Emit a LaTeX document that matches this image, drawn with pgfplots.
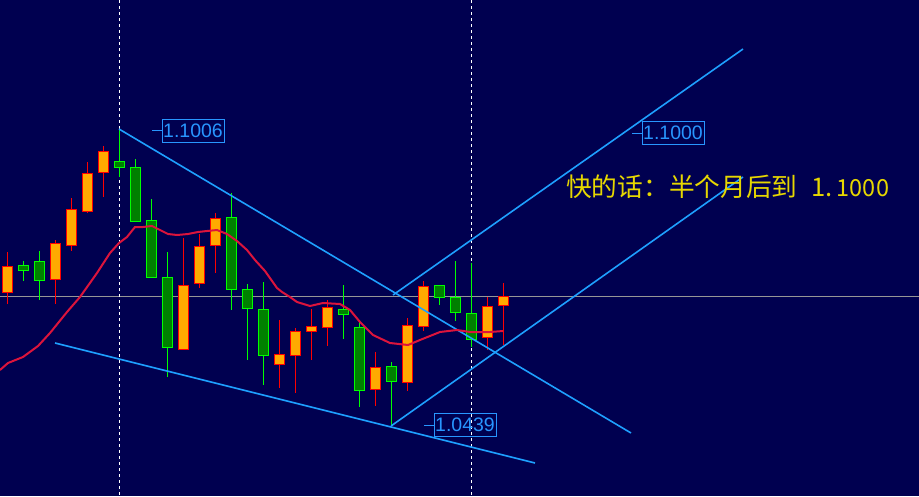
\documentclass[border=0pt]{standalone}
\usepackage{pgfplots}
\pgfplotsset{compat=1.18}
\usepackage{fontspec}
\setmainfont{Liberation Sans}
\newfontfamily\cjk{Noto Sans CJK SC}

\definecolor{bg}{RGB}{0,0,80}
\definecolor{trend}{RGB}{30,160,255}
\definecolor{lbl}{RGB}{40,150,255}
\definecolor{upf}{RGB}{255,170,0}
\definecolor{upb}{RGB}{255,0,0}
\definecolor{dnf}{RGB}{0,128,0}
\definecolor{dnb}{RGB}{0,255,0}
\definecolor{ma}{RGB}{220,20,60}
\definecolor{txt}{RGB}{230,215,0}
\definecolor{hline}{RGB}{150,150,150}

% candle: x, body top, body bottom, high, low, wick/border colour, fill colour
% (y is measured downwards, chart pixels)
\newcommand{\candle}[7]{%
  \pgfmathsetmacro\xl{#1-5}\pgfmathsetmacro\xr{#1+5}%
  \edef\next{%
    \noexpand\addplot[draw=#6, line width=1.2pt, forget plot] coordinates {(#1,#4) (#1,#5)};
    \noexpand\addplot[draw=#6, fill=#7, line width=1pt, forget plot]
      coordinates {(\xl,#2) (\xr,#2) (\xr,#3) (\xl,#3)} -- cycle;
  }\next}
\newcommand{\up}[5]{\candle{#1}{#2}{#3}{#4}{#5}{upb}{upf}}
\newcommand{\dn}[5]{\candle{#1}{#2}{#3}{#4}{#5}{dnb}{dnf}}

\begin{document}
\begin{tikzpicture}
\begin{axis}[
    scale only axis,
    width=919pt, height=496pt,
    xmin=0, xmax=919, ymin=0, ymax=496,
    y dir=reverse,
    axis line style={draw=none},
    xtick=\empty, ytick=\empty,
    axis background/.style={fill=bg},
    clip=true,
]
% price line
\addplot[hline, line width=1pt] coordinates {(0,296) (919,296)};
% period separators
\addplot[white, line width=1pt, dash pattern=on 3pt off 3pt] coordinates {(119,0) (119,496)};
\addplot[white, line width=1pt, dash pattern=on 3pt off 3pt] coordinates {(471,0) (471,496)};

% candles
\up{7.5}{266}{292.7}{252}{304}
\dn{23.5}{265}{270}{261}{281}
\dn{39.5}{261}{280}{251}{300}
\up{55.5}{243}{279}{240}{304}
\up{71.5}{209}{245}{198}{251}
\up{87.5}{173}{211}{162}{213}
\up{103.5}{151}{172}{146}{197}
\dn{119.5}{161}{167}{129}{177}
\dn{135.5}{167}{221}{159}{222}
\dn{151.5}{220}{277}{199}{278}
\dn{167.5}{277}{347}{252}{377}
\up{183.5}{285}{349}{238}{350}
\up{199.5}{246}{283}{234}{288}
\up{215.5}{218}{245}{213}{273}
\dn{231.5}{217}{289}{193}{310}
\dn{247.5}{289}{308}{284}{360}
\dn{263.5}{309}{355}{282}{385}
\up{279.5}{354}{364}{320}{388}
\up{295.5}{331}{355}{328}{393}
\up{311.5}{326}{331}{309}{360}
\up{327.5}{307}{327}{300}{346}
\dn{343.5}{309}{314}{285}{339}
\dn{359.5}{327}{390}{322}{407}
\up{375.5}{367}{389}{352}{406}
\dn{391.5}{366}{381}{362}{425}
\up{407.5}{325}{382}{318}{391}
\up{423.5}{286}{326}{281}{331}
\dn{439.5}{285}{297}{285}{305}
\dn{455.5}{297}{312}{261}{321}
\dn{471.5}{313}{339}{263}{347}
\up{487.5}{306}{337}{297}{350}
\up{503.5}{296}{305}{283}{345}

% trend lines
\addplot[trend, line width=1.6pt] coordinates {(119,129) (631,433)};
\addplot[trend, line width=1.6pt] coordinates {(55,343) (535,463)};
\addplot[trend, line width=1.6pt] coordinates {(393,295) (743,49)};
\addplot[trend, line width=1.6pt] coordinates {(391,426) (743,177)};

% moving average
\addplot[ma, line width=2pt] coordinates {
  (0,370) (8,363) (23,357) (38,346) (50,333) (67,312) (80,297) (97,273)
  (110,253) (119,243) (127,237) (135,227) (143,227) (152,226) (160,230)
  (168,234) (177,235) (188,234) (198,232) (207,231) (217,230) (227,234)
  (237,241) (247,250) (255,260) (265,271) (277,288) (282,292) (290,297)
  (297,302) (310,306) (323,303) (340,304) (350,310) (360,322) (373,335)
  (390,343) (408,345) (420,340) (440,332) (457,330) (470,332) (490,332)
  (503,331)
};

% price labels
\addplot[lbl, line width=1pt] coordinates {(152,130.5) (162,130.5)};
\addplot[lbl, line width=1pt] coordinates {(424,425) (434,425)};
\addplot[lbl, line width=1pt] coordinates {(632,133) (642,133)};
\tikzset{pricebox/.style={draw=lbl, line width=1pt, text=lbl, inner sep=0pt,
  minimum width=62pt, minimum height=23pt, font=\fontsize{19.5}{19.5}\selectfont}}
\node[pricebox] at (axis cs:193,130.5) {1.1006};
\node[pricebox] at (axis cs:465,425) {1.0439};
\node[pricebox] at (axis cs:673,133) {1.1000};

\node[anchor=west, inner sep=0pt, text=txt, font=\cjk\fontsize{25.7}{25.7}\selectfont]
  at (axis cs:566,187) {快的话：半个月后到\hspace{0.55em}1.\hspace{0.15em}{\fontsize{23.5}{23.5}\selectfont 1000}};
\end{axis}
\end{tikzpicture}
\end{document}
